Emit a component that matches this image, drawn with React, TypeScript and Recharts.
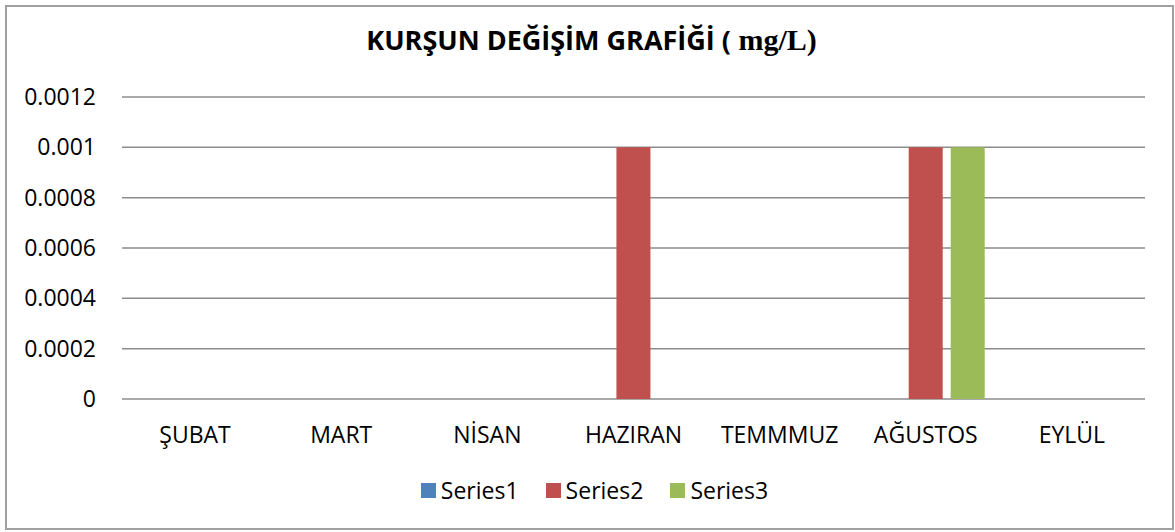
import React from 'react';
import { BarChart, Bar, XAxis, YAxis, CartesianGrid, Legend } from 'recharts';

const months = ['ŞUBAT', 'MART', 'NİSAN', 'HAZIRAN', 'TEMMMUZ', 'AĞUSTOS', 'EYLÜL'];
const series1 = [0, 0, 0, 0, 0, 0, 0];
const series2 = [0, 0, 0, 0.001, 0, 0.001, 0];
const series3 = [0, 0, 0, 0, 0, 0.001, 0];
const yTicks = [0, 0.0002, 0.0004, 0.0006, 0.0008, 0.001, 0.0012];
const yTickLabels = ['0', '0.0002', '0.0004', '0.0006', '0.0008', '0.001', '0.0012'];

const data = months.map((m, i) => ({
  month: m,
  Series1: series1[i],
  Series2: series2[i],
  Series3: series3[i],
}));

const FONT = '"Open Sans", "Noto Sans", sans-serif';

const LegendContent = (props: any) => {
  const payload = props.payload || [];
  return (
    <div
      style={{
        height: 40,
        display: 'flex',
        alignItems: 'center',
        justifyContent: 'center',
        paddingLeft: 14,
        fontFamily: FONT,
        fontSize: 23,
        color: '#000',
      }}
    >
      {payload.map((entry: any, i: number) => (
        <div key={i} style={{ display: 'flex', alignItems: 'center', marginRight: i < payload.length - 1 ? 27 : 0 }}>
          <div style={{ width: 15, height: 15, background: entry.color, marginRight: 5 }} />
          <span>{entry.value}</span>
        </div>
      ))}
    </div>
  );
};

export default function App() {
  return (
    <div style={{ position: 'absolute', left: 0, top: 0, width: 1175, height: 532, background: '#fff' }}>
      <div
        style={{
          position: 'absolute',
          left: 5,
          top: 5,
          width: 1169,
          height: 525,
          border: '2px solid #a0a0a0',
          boxSizing: 'border-box',
        }}
      />
      <div
        style={{
          position: 'absolute',
          left: 4,
          top: 28,
          width: 1175,
          height: 24,
          lineHeight: '24px',
          textAlign: 'center',
          fontFamily: FONT,
          fontWeight: 700,
          fontSize: 27,
          color: '#000',
          whiteSpace: 'nowrap',
        }}
      >
        KURŞUN DEĞİŞİM GRAFİĞİ (
        <span style={{ fontFamily: '"Liberation Serif", serif', fontSize: 30 }}> mg/L)</span>
      </div>
      <div style={{ position: 'absolute', left: 0, top: 0 }}>
        <BarChart
          width={1175}
          height={532}
          data={data}
          margin={{ top: 97, right: 30, bottom: 22, left: 0 }}
          barSize={34}
          barGap={8}
        >
          <CartesianGrid horizontal={true} vertical={false} stroke="#8c8c8c" strokeWidth={1.5} />
          <XAxis
            dataKey="month"
            interval={0}
            tickLine={false}
            axisLine={false}
            tickSize={0}
            tickMargin={28}
            height={71}
            tick={{ fill: '#000', fontSize: 23, fontFamily: FONT }}
          />
          <YAxis
            domain={[0, 0.0012]}
            ticks={yTicks}
            tickFormatter={(v: number) => yTickLabels[yTicks.indexOf(v)] ?? String(v)}
            tickLine={false}
            axisLine={false}
            tickSize={0}
            tickMargin={26}
            width={122}
            tick={{ fill: '#000', fontSize: 23, fontFamily: FONT }}
          />
          <Legend
            verticalAlign="bottom"
            content={<LegendContent />}
            wrapperStyle={{ left: 0, width: 1175 }}
          />
          <Bar dataKey="Series1" fill="#4F81BD" isAnimationActive={false} />
          <Bar dataKey="Series2" fill="#C0504D" isAnimationActive={false} />
          <Bar dataKey="Series3" fill="#9BBB59" isAnimationActive={false} />
        </BarChart>
      </div>
    </div>
  );
}
